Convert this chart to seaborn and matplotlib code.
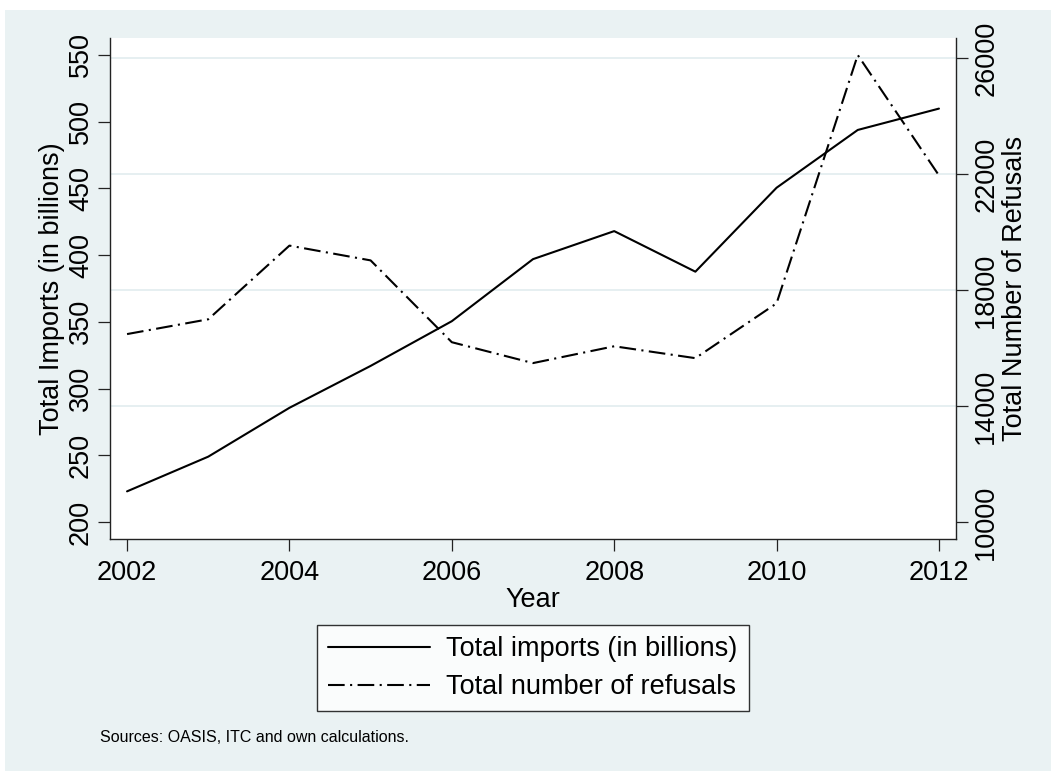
import matplotlib
matplotlib.use("Agg")
import matplotlib.pyplot as plt
import seaborn as sns
import pandas as pd
from matplotlib.patches import Rectangle
from matplotlib.lines import Line2D

# ---- data ----
years = [2002, 2003, 2004, 2005, 2006, 2007, 2008, 2009, 2010, 2011, 2012]
imports_bn = [223, 249, 285.6, 317, 350.5, 397, 418, 387.6, 450.5, 493.8, 509.8]
refusals = [16480, 16990, 19530, 19020, 16200, 15480, 16060, 15650, 17540, 26100, 21950]
left_ticks = [200, 250, 300, 350, 400, 450, 500, 550]
right_ticks = [10000, 14000, 18000, 22000, 26000]
x_ticks = [2002, 2004, 2006, 2008, 2010, 2012]
label_imports = "Total imports (in billions)"
label_refusals = "Total number of refusals"

df = pd.DataFrame({"Year": years, "imports": imports_bn, "refusals": refusals})

sns.set_style("white")
plt.rcParams["font.family"] = ["Liberation Sans", "DejaVu Sans"]
plt.rcParams["lines.scale_dashes"] = True
plt.rcParams["text.color"] = "black"
plt.rcParams["axes.labelcolor"] = "black"
plt.rcParams["xtick.color"] = "black"
plt.rcParams["ytick.color"] = "black"

BG = "#EAF2F3"
AXC = "#222222"
FS = 19.5

fig = plt.figure(figsize=(10.51, 7.71), dpi=100)
fig.patch.set_facecolor("white")
fig.patches.append(Rectangle((5 / 1051, 0), 1 - 5 / 1051, 1 - 10 / 771,
                             transform=fig.transFigure, facecolor=BG,
                             edgecolor="none", zorder=-10))

W, H = 1051, 771
ax2 = fig.add_axes([110 / W, 1 - 539 / H, (956 - 110) / W, (539 - 38) / H])
ax = ax2.twinx()
ax2.yaxis.tick_right()
ax2.yaxis.set_label_position("right")
ax.yaxis.tick_left()
ax.yaxis.set_label_position("left")
ax2.set_zorder(0)
ax.set_zorder(1)
ax.patch.set_visible(False)
ax2.patch.set_facecolor("white")

dashdot = (0, (8, 2.6, 1, 2.6))
lw = 1.5

sns.lineplot(data=df, x="Year", y="refusals", ax=ax2, color="black",
             linewidth=lw, linestyle=dashdot, legend=False)
sns.lineplot(data=df, x="Year", y="imports", ax=ax, color="black",
             linewidth=lw, legend=False)

ax2.set_xlim(2001.79, 2012.21)
ax.set_ylim(187.3, 562.7)
ax2.set_ylim(9416, 26687)

ax.set_yticks(left_ticks)
ax.set_yticklabels([str(v) for v in left_ticks], rotation=90, va="center")
ax2.set_yticks(right_ticks)
ax2.set_yticklabels([str(v) for v in right_ticks], rotation=90, va="center")
ax2.set_xticks(x_ticks)
ax2.set_xticklabels([str(v) for v in x_ticks])
ax.tick_params(axis="x", bottom=False, top=False, labelbottom=False, labeltop=False)

for a in (ax, ax2):
    for s in a.spines.values():
        s.set_visible(False)
ax.spines["left"].set_visible(True)
ax.spines["left"].set_color(AXC)
ax.spines["left"].set_linewidth(1.0)
ax2.spines["right"].set_visible(True)
ax2.spines["right"].set_color(AXC)
ax2.spines["right"].set_linewidth(1.0)
ax2.spines["bottom"].set_visible(True)
ax2.spines["bottom"].set_color(AXC)
ax2.spines["bottom"].set_linewidth(1.0)

ax.tick_params(axis="y", left=True, right=False, length=8.5, width=0.9,
               color=AXC, labelsize=FS, pad=3, labelcolor="black")
ax2.tick_params(axis="y", right=True, left=False, length=8.5, width=0.9,
                color=AXC, labelsize=FS, pad=4, labelcolor="black")
ax2.tick_params(axis="x", bottom=True, length=8.5, width=0.9, color=AXC,
                labelsize=FS, pad=6.5, labelcolor="black")

ax2.yaxis.grid(True, color="#E4EEF0", linewidth=1.3)
ax2.xaxis.grid(False)
ax.grid(False)
ax2.get_ygridlines()[0].set_visible(False)

ax.set_ylabel("Total Imports (in billions)", fontsize=FS, labelpad=2, color="black")
ax2.set_ylabel("Total Number of Refusals", fontsize=FS, labelpad=2, color="black")
ax2.set_xlabel("Year", fontsize=FS, labelpad=0.5, color="black")
ax.set_xlabel("")

handles = [Line2D([], [], color="black", linewidth=lw),
           Line2D([], [], color="black", linewidth=lw, linestyle=dashdot)]
leg = fig.legend(handles, [label_imports, label_refusals],
                 loc="upper center", bbox_to_anchor=(533 / W, 1 - 625 / H),
                 fontsize=FS, frameon=True, fancybox=False, shadow=False,
                 handlelength=3.75, handletextpad=0.6, labelspacing=0.43,
                 borderpad=0.42, borderaxespad=0, labelcolor="black")
leg.get_frame().set_edgecolor("black")
leg.get_frame().set_linewidth(1.0)
leg.get_frame().set_facecolor("white")

fig.text(100 / W, 1 - 737 / H, "Sources: OASIS, ITC and own calculations.",
         fontsize=11.5, va="center", ha="left", color="black")

fig.savefig("out.png", dpi=100)
